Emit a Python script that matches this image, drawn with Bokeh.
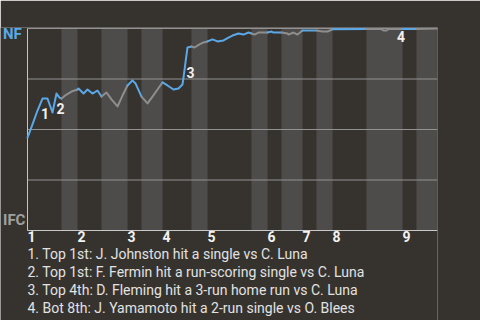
from bokeh.plotting import figure
from bokeh.models import Range1d, FixedTicker, ColumnDataSource
from bokeh.core.properties import value
from bokeh.embed import file_html
from bokeh.resources import INLINE

# ---- data ----
half_edges = [0, 6.8, 10, 14.8, 20, 22.8, 27, 32.8, 36, 44.8, 48, 50.8, 55, 57.8, 61, 67.8, 75, 77.8, 82]
inning_labels = ["1", "2", "3", "4", "5", "6", "7", "8", "9"]

wp_x = [0, 1, 2, 3, 4, 5, 5.8, 6.4, 6.8,
        7.8, 8.8, 10,
        10.2, 11.2, 12, 13, 14, 14.8,
        15.8, 16.8, 18, 19, 20,
        21, 21.6, 22.8,
        24, 25, 26, 27,
        28, 29.2, 30.2, 31, 31.2, 31.6, 32, 32.8,
        33.4, 34.4, 35.2, 36,
        37, 38, 39.2, 40.2, 41, 42.2, 43.2, 44.2, 44.8,
        45.4, 46.2, 47.2, 48,
        48.8, 49.2, 50.8,
        52, 52.2, 53.2, 54, 55,
        57.8,
        59, 60, 61,
        67.8,
        70.8, 71.2, 71.8, 72.2, 75,
        77.8,
        82]
wp_y = [0.460, 0.525, 0.594, 0.653, 0.653, 0.584, 0.678, 0.658, 0.653,
        0.673, 0.688, 0.698,
        0.703, 0.678, 0.698, 0.678, 0.693, 0.663,
        0.683, 0.649, 0.614, 0.668, 0.718,
        0.743, 0.728, 0.663,
        0.629, 0.663, 0.698, 0.733,
        0.718, 0.698, 0.703, 0.723, 0.757, 0.832, 0.906, 0.911,
        0.906, 0.921, 0.931, 0.936,
        0.946, 0.936, 0.941, 0.955, 0.965, 0.975, 0.970, 0.980, 0.975,
        0.970, 0.980, 0.980, 0.980,
        0.985, 0.980, 0.980,
        0.975, 0.970, 0.980, 0.970, 0.990,
        0.990,
        0.985, 0.985, 0.996,
        0.997,
        0.997, 0.990, 0.990, 0.997, 0.997,
        0.998,
        1.0]

event_nums = ["1", "2", "3", "4"]
event_x = [3.5, 6.6, 32.6, 74.7]
event_y = [0.577, 0.604, 0.782, 0.962]
event_texts = [
    "1. Top 1st: J. Johnston hit a single vs C. Luna",
    "2. Top 1st: F. Fermin hit a run-scoring single vs C. Luna",
    "3. Top 4th: D. Fleming hit a 3-run home run vs C. Luna",
    "4. Bot 8th: J. Yamamoto hit a 2-run single vs O. Blees",
]
team_top = "NF"
team_bottom = "IFC"
grid_levels = [0.25, 0.5, 0.75, 1.0]

# ---- style / layout ----
BG = "#36332f"
BAND = "#4e4c4a"
BLUE = "#5aa8e8"
GRAY = "#8e8e8e"
FONT = "Roboto"
PX_X = 5.0     # pixels per x unit
PX_Y = 202.0   # pixels per probability unit
X_MAX = half_edges[-1]

# frame covers whole canvas except right margin; chart area mapped inside it
x_start = -27 / PX_X
y_end = 1 + 1 / PX_Y
y_start = -90 / PX_Y

p = figure(width=480, height=320, output_backend="svg", toolbar_location=None,
           x_range=Range1d(x_start, X_MAX), y_range=Range1d(y_start, y_end),
           min_border_left=0, min_border_right=43, min_border_top=27, min_border_bottom=0)
p.background_fill_color = BG
p.border_fill_color = BG
p.outline_line_color = None
p.grid.visible = False
p.yaxis.visible = False

# bands for bottom halves
lefts = [half_edges[i] for i in range(1, len(half_edges) - 1, 2)]
rights = [half_edges[i + 1] for i in range(1, len(half_edges) - 1, 2)]
p.quad(left=lefts, right=rights, bottom=0, top=1, fill_color=BAND, line_color=None)

# horizontal grid lines and left border
p.segment(x0=[0] * len(grid_levels), x1=[X_MAX] * len(grid_levels), y0=grid_levels, y1=grid_levels,
          line_color="#929292", line_width=1)
p.segment(x0=[0], x1=[0], y0=[0], y1=[1], line_color="#c4c4c4", line_width=1)

# x axis fixed at probability 0
xa = p.xaxis[0]
xa.fixed_location = 0
xa.bounds = (0, X_MAX)
tick_pos = [half_edges[i] + 0.8 for i in range(0, len(half_edges) - 1, 2)]
xa.ticker = FixedTicker(ticks=tick_pos)
xa.major_label_overrides = {t: lab for t, lab in zip(tick_pos, inning_labels)}
xa.major_tick_line_color = None
xa.minor_tick_line_color = None
xa.major_tick_out = 0
xa.major_tick_in = 0
xa.major_label_standoff = 0
xa.axis_line_color = "#c8c8c8"
xa.major_label_text_color = "#f2f2f2"
xa.major_label_text_font = FONT
xa.major_label_text_font_style = "bold"
xa.major_label_text_font_size = "14px"

# win probability line, split by half inning
for i in range(len(half_edges) - 1):
    lo, hi = half_edges[i], half_edges[i + 1]
    xs = [x for x in wp_x if lo <= x <= hi]
    ys = [y for x, y in zip(wp_x, wp_y) if lo <= x <= hi]
    p.line(xs, ys, line_color=BLUE if i % 2 == 0 else GRAY, line_width=2,
           line_join="round", line_cap="round")

# event markers
src = ColumnDataSource(dict(x=event_x, y=event_y, t=event_nums))
p.text(x="x", y="y", text="t", source=src, text_color="#f0f0f0", text_font=value(FONT),
       text_font_style="bold", text_font_size="14px", text_align="center", text_baseline="middle")

# team labels at left
team_x = x_start + 2.5 / PX_X
p.text(x=[team_x], y=[1 - 5.8 / PX_Y], text=[team_top], text_color=BLUE, text_font=value(FONT),
       text_font_style="bold", text_font_size="15px", text_align="left", text_baseline="middle")
p.text(x=[team_x], y=[10.2 / PX_Y], text=[team_bottom], text_color="#a0a0a0", text_font=value(FONT),
       text_font_style="bold", text_font_size="15px", text_align="left", text_baseline="middle")

# event descriptions below the chart
line_y = [-(23 + 18 * k) / PX_Y for k in range(len(event_texts))]
p.text(x=[0] * len(event_texts), y=line_y, text=event_texts, text_color="#e2e2e2",
       text_font=value(FONT), text_font_size="14px", text_align="left", text_baseline="middle")

open("out.html", "w").write(file_html(p, INLINE))
